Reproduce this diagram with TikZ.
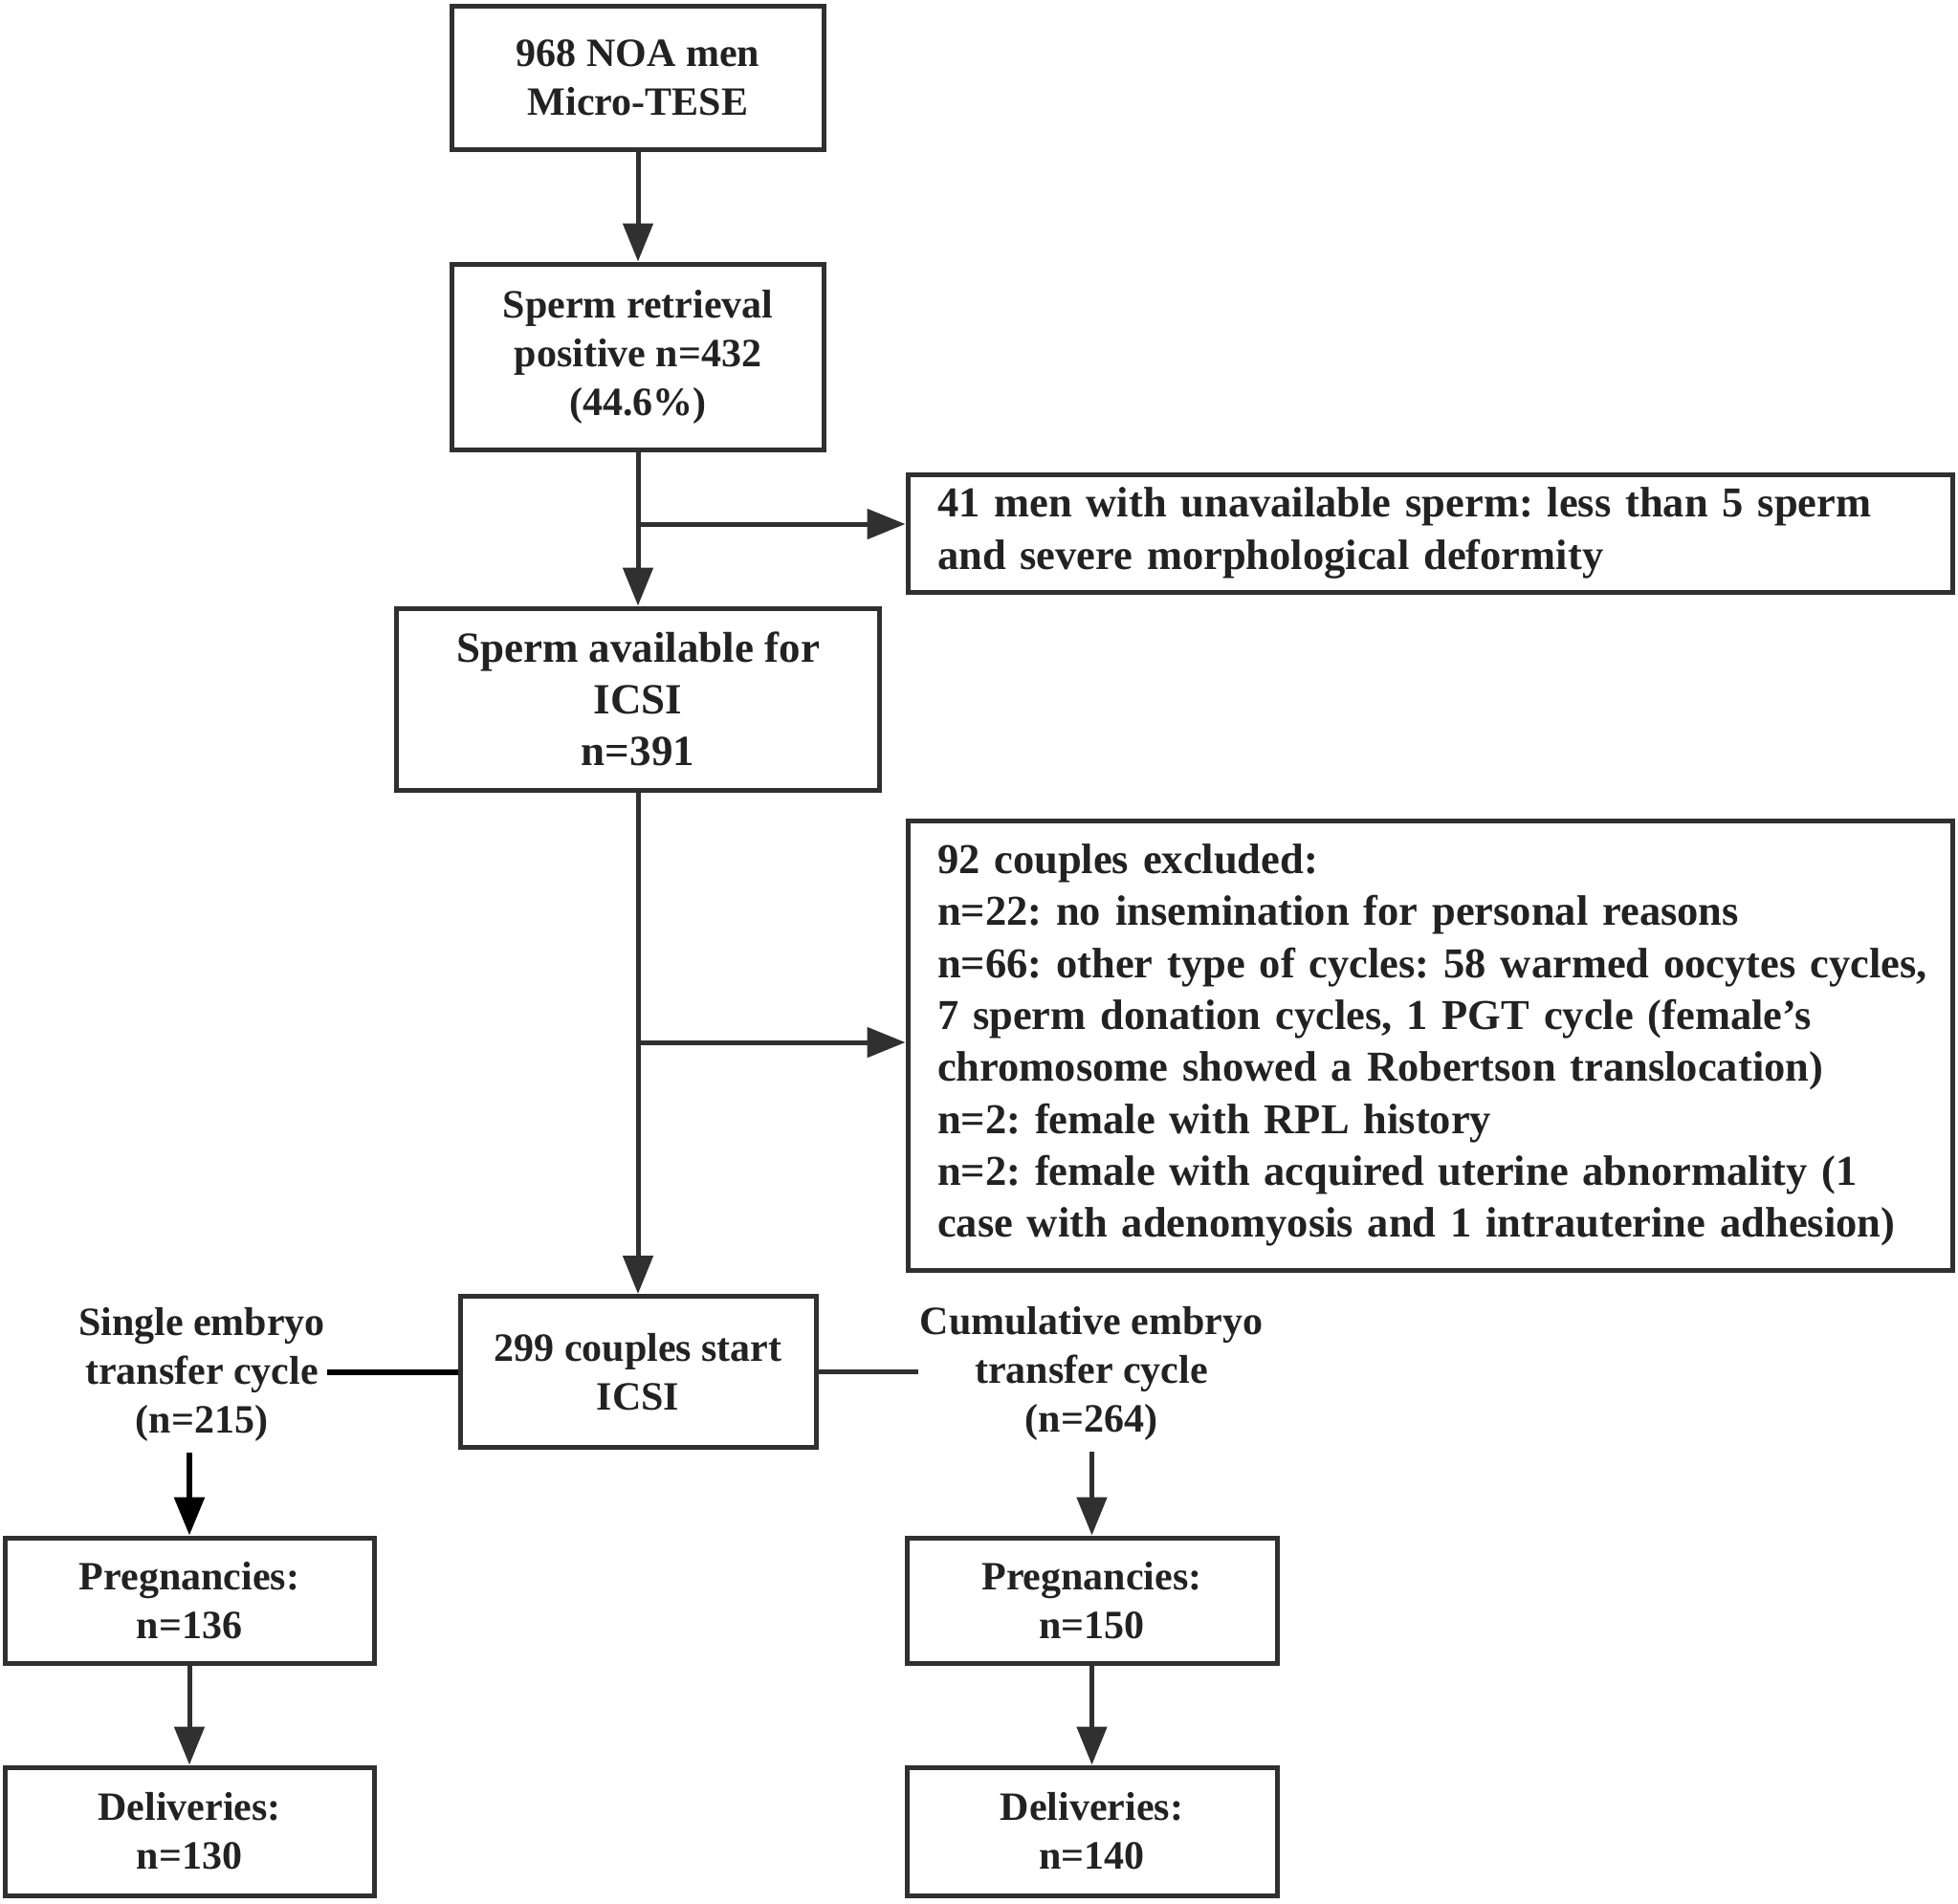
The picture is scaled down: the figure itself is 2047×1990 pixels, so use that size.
\documentclass[tikz,border=0pt]{standalone}
\usepackage{fontspec}
\setmainfont{Liberation Serif}
\usetikzlibrary{arrows.meta}
\definecolor{ln}{RGB}{48,48,48}
\definecolor{tx}{RGB}{34,34,34}
\frenchspacing
\hyphenpenalty=10000
\exhyphenpenalty=10000
\hbadness=10000
\hfuzz=200pt
\tikzset{
  box/.style={draw=ln, line width=5pt, rectangle, inner sep=0pt, align=center, text=tx},
  fs/.style={font=\bfseries\fontsize{42}{51}\selectfont},
  fm/.style={font=\bfseries\fontsize{45}{54}\selectfont},
  fl/.style={font=\bfseries\fontsize{44.5}{54.3}\selectfont},
  arr/.style={draw=ln, line width=5pt, -{Triangle[length=40pt,width=31pt]}},
  blk/.style={draw=black, line width=6pt},
  blkarr/.style={draw=black, line width=6pt, -{Triangle[length=40pt,width=31pt]}},
  lab/.style={align=center, text=tx, inner sep=2pt},
}
\begin{document}
\begin{tikzpicture}[x=1pt,y=-1pt]
\useasboundingbox (0,0) rectangle (2047,1990);
% main column
\node[box,fs,minimum width=389,minimum height=150] (b1) at (667,81) {968 NOA men\\Micro-TESE};
\node[box,fs,minimum width=389,minimum height=194] (b2) at (667,373) {Sperm retrieval\\positive n=432\\(44.6\%)};
\node[box,fm,minimum width=505,minimum height=190] (b4) at (667,731) {Sperm available for\\ICSI\\n=391};
\node[box,fs,minimum width=372,minimum height=158] (b6) at (667,1434.5) {299 couples start\\ICSI};
% exclusion boxes
\node[box,fl,minimum width=1092,minimum height=123,text width=1030,align=left] (b3) at (1495,557.5)
  {\mbox{41 men with unavailable sperm: less than 5 sperm}\\\mbox{and severe morphological deformity}};
\node[box,fl,minimum width=1092,minimum height=470,text width=1030,align=left] (b5) at (1495,1093)
  {\mbox{92 couples excluded:}\\
   \mbox{n=22: no insemination for personal reasons}\\
   \mbox{n=66: other type of cycles: 58 warmed oocytes cycles,}\\
   \mbox{7 sperm donation cycles, 1 PGT cycle (female’s}\\
   \mbox{chromosome showed a Robertson translocation)}\\
   \mbox{n=2: female with RPL history}\\
   \mbox{n=2: female with acquired uterine abnormality (1}\\
   \mbox{case with adenomyosis and 1 intrauterine adhesion)}};
% branch labels
\node[lab,fs] (sl) at (211,1437) {Single embryo\\transfer cycle\\(n=215)};
\node[lab,fs] (cl) at (1141,1436) {Cumulative embryo\\transfer cycle\\(n=264)};
% outcome boxes
\node[box,fs,minimum width=386,minimum height=131] (pl) at (198,1673.5) {Pregnancies:\\n=136};
\node[box,fs,minimum width=386,minimum height=134] (dl) at (198,1915) {Deliveries:\\n=130};
\node[box,fs,minimum width=387,minimum height=131] (pr) at (1141.5,1673.5) {Pregnancies:\\n=150};
\node[box,fs,minimum width=387,minimum height=134] (dr) at (1141.5,1915) {Deliveries:\\n=140};
% junctions
\coordinate (j1) at (667,548);
\coordinate (j2) at (667,1090);
% connectors
\draw[arr] (b1) -- (b2);
\draw[arr] (b2) -- (b4);
\draw[arr] (j1) -- (j1 -| b3.west);
\draw[arr] (b4) -- (b6);
\draw[arr] (j2) -- (j2 -| b5.west);
\draw[blk] (b6.west) -- (b6.west -| sl.east);
\draw[ln,line width=5pt] (b6.east) -- (b6.east -| cl.west);
\draw[blkarr,shorten <=10pt] (sl.south -| pl.north) -- (pl.north);
\draw[arr,shorten <=10pt] (cl.south -| pr.north) -- (pr.north);
\draw[arr] (pl) -- (dl);
\draw[arr] (pr) -- (dr);
\end{tikzpicture}
\end{document}
